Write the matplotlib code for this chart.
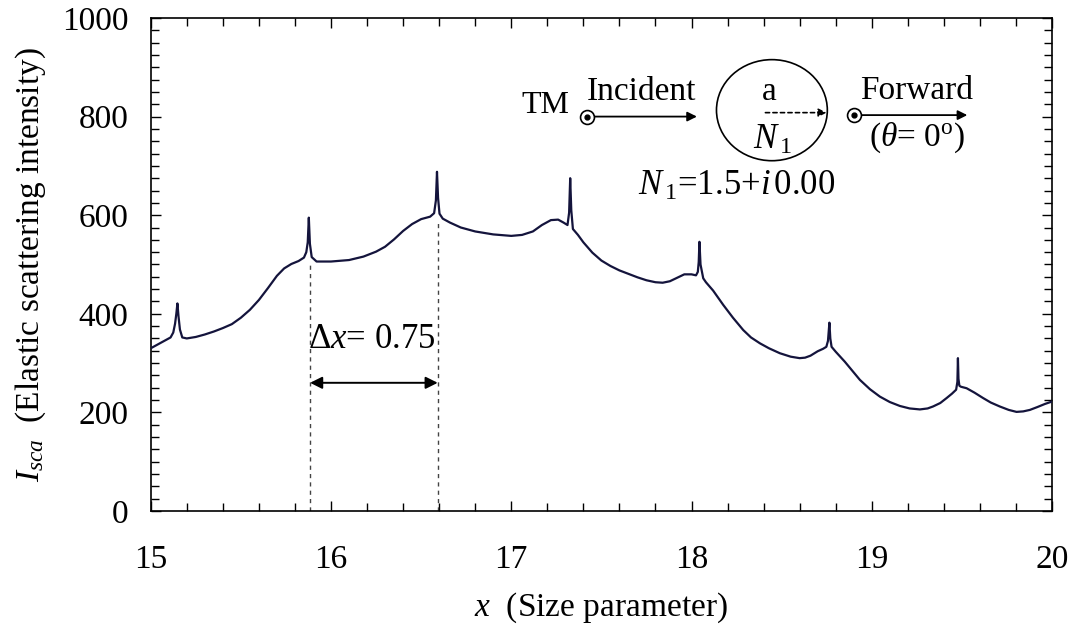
import numpy as np
import matplotlib
matplotlib.use('Agg')
import matplotlib.pyplot as plt
from matplotlib.patches import Ellipse
from matplotlib.ticker import MultipleLocator

plt.rcParams['font.family'] = ['Liberation Serif', 'DejaVu Serif']
plt.rcParams['mathtext.fontset'] = 'custom'
plt.rcParams['mathtext.rm'] = 'Liberation Serif'
plt.rcParams['mathtext.it'] = 'Liberation Serif:italic'

# size parameter x and scattered intensity (TM, forward direction)
size_param = [
    15.00, 15.04, 15.08, 15.11, 15.125, 15.135, 15.142, 15.148, 15.154, 15.162,
    15.175, 15.20, 15.25, 15.30, 15.35, 15.40, 15.45, 15.50, 15.55, 15.60,
    15.65, 15.70, 15.74, 15.78, 15.82, 15.85, 15.863, 15.871, 15.877, 15.883,
    15.893, 15.92, 16.00, 16.10, 16.18, 16.25, 16.30, 16.35, 16.40, 16.45,
    16.50, 16.55, 16.572, 16.582, 16.588, 16.594, 16.602, 16.62, 16.66, 16.72,
    16.80, 16.90, 17.00, 17.06, 17.12, 17.17, 17.22, 17.26, 17.29, 17.312,
    17.321, 17.327, 17.333, 17.342, 17.37, 17.40, 17.45, 17.50, 17.55, 17.60,
    17.65, 17.70, 17.75, 17.80, 17.84, 17.88, 17.92, 17.96, 18.00, 18.025,
    18.035, 18.040, 18.044, 18.050, 18.065, 18.08, 18.12, 18.176, 18.23, 18.287,
    18.33, 18.38, 18.43, 18.49, 18.55, 18.60, 18.63, 18.66, 18.70, 18.73,
    18.748, 18.757, 18.762, 18.765, 18.770, 18.777, 18.80, 18.85, 18.90, 18.934,
    18.99, 19.045, 19.10, 19.156, 19.21, 19.267, 19.31, 19.34, 19.38, 19.415,
    19.445, 19.468, 19.475, 19.478, 19.481, 19.486, 19.495, 19.526, 19.57, 19.618,
    19.66, 19.71, 19.76, 19.803, 19.84, 19.877, 19.92, 19.96, 20.00,
]
intensity = [
    330, 338, 346, 352, 362, 380, 400, 421, 395, 368,
    352, 350, 353, 358, 364, 371, 379, 392, 408, 428,
    452, 477, 492, 501, 507, 514, 525, 545, 595, 542,
    515, 506, 506, 509, 516, 526, 536, 551, 568, 582,
    592, 597, 604, 630, 688, 635, 603, 593, 585, 575,
    567, 561, 558, 560, 567, 580, 590, 591, 585, 580,
    605, 675, 610, 572, 560, 545, 524, 508, 497, 488,
    481, 474, 468, 464, 463, 466, 473, 480, 480, 478,
    485, 505, 546, 500, 472, 464, 447, 418, 392, 367,
    352, 340, 330, 320, 313, 310, 311, 315, 324, 329,
    333, 345, 370, 382, 350, 333, 323, 303, 281, 266,
    247, 232, 221, 213, 208, 206, 208, 212, 219, 229,
    238, 246, 262, 310, 268, 254, 252, 249, 240, 229,
    220, 212, 205, 201, 202, 205, 211, 217, 222,
]

delta_x = (15.884, 16.592)
delta_tops = (500, 590)
delta_arrow_y = 260

fig = plt.figure(figsize=(10.79, 6.31), dpi=100)
ax = fig.add_axes([0.1397, 0.1902, 0.975 - 0.1397, 0.9715 - 0.1902])

ax.plot(size_param, intensity, color='#14143c', lw=1.6, zorder=3)

ax.set_xlim(15, 20)
ax.set_ylim(0, 1000)
ax.xaxis.set_major_locator(MultipleLocator(1))
ax.xaxis.set_minor_locator(MultipleLocator(0.2))
ax.yaxis.set_major_locator(MultipleLocator(200))
ax.yaxis.set_minor_locator(MultipleLocator(25))
ax.tick_params(which='both', direction='in', top=True, right=True, width=1.0)
ax.tick_params(which='major', length=7.5)
ax.tick_params(which='minor', length=5.5)
ax.tick_params(axis='x', labelsize=24, pad=24)
ax.tick_params(axis='y', labelsize=24, pad=16)
for sp in ax.spines.values():
    sp.set_linewidth(1.2)

ax.set_xlabel('$x$  (Size parameter)', fontsize=24, labelpad=11)
ax.set_ylabel('$I_{sca}$  (Elastic scattering intensity)', fontsize=24, labelpad=10)

# spacing between neighbouring resonances
for xv, top in zip(delta_x, delta_tops):
    ax.plot([xv, xv], [0, top], ls=(0, (3, 3)), color='#444444', lw=1.0, zorder=2)
ax.annotate('', xy=(delta_x[1], delta_arrow_y), xytext=(delta_x[0], delta_arrow_y),
            arrowprops=dict(arrowstyle='<|-|>', color='black', lw=1.4,
                            mutation_scale=18, shrinkA=0, shrinkB=0))
ax.text(delta_x[0] - 0.01, 348, r'$\Delta x$= 0.75', fontsize=25, va='center', ha='left')

# scattering geometry sketch
ax.text(17.19, 823, 'TM', fontsize=23, ha='center', va='center')


def polarisation_arrow(x0, x1, y):
    ax.annotate('', xy=(x1, y), xytext=(x0, y),
                arrowprops=dict(arrowstyle='-|>', color='black', lw=1.3,
                                mutation_scale=14, shrinkA=0, shrinkB=0))
    ax.plot([x0], [y], marker='o', ms=10, mfc='white', mec='black', mew=1.2, zorder=5)
    ax.plot([x0], [y], marker='o', ms=3.5, color='black', zorder=6)


polarisation_arrow(17.42, 18.03, 800)
ax.text(17.72, 850, 'Incident', fontsize=24, ha='center', va='center')

ax.add_patch(Ellipse((18.446, 813), 0.615, 205, fill=False, ec='black', lw=1.2))
ax.text(18.43, 850, 'a', fontsize=24, ha='center', va='center')
ax.annotate('', xy=(18.75, 808), xytext=(18.41, 808),
            arrowprops=dict(arrowstyle='-|>', color='black', lw=1.2, ls=(0, (2.5, 2)),
                            mutation_scale=12, shrinkA=0, shrinkB=0))
ax.text(18.45, 752, '$N_{\\,1}$', fontsize=25, ha='center', va='center')

polarisation_arrow(18.90, 19.53, 803)
ax.text(19.25, 852, 'Forward', fontsize=24, ha='center', va='center')
ax.text(19.25, 757, r'($\theta$= 0$^{\mathrm{o}}$)', fontsize=24, ha='center', va='center')

ax.text(18.25, 658, '$N_{\\,1}$=1.5+$i\\,$0.00', fontsize=25, ha='center', va='center')

fig.savefig('out.png', dpi=100)
